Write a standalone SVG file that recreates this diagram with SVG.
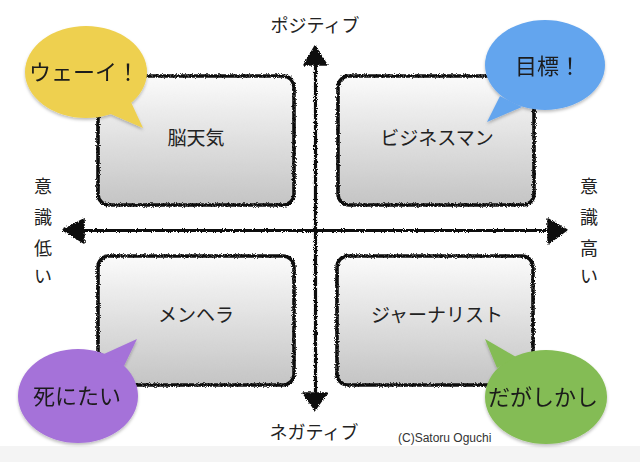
<svg xmlns="http://www.w3.org/2000/svg" width="640" height="462" viewBox="0 0 640 462">
  <defs>
    <linearGradient id="boxGrad" x1="0" y1="0" x2="0" y2="1">
      <stop offset="0" stop-color="#fbfbfb"/>
      <stop offset="1" stop-color="#c4c4c4"/>
    </linearGradient>
    <filter id="rough" x="-5%" y="-5%" width="110%" height="110%">
      <feTurbulence type="fractalNoise" baseFrequency="1.1" numOctaves="2" seed="3" result="n"/>
      <feDisplacementMap in="SourceGraphic" in2="n" scale="3.5" xChannelSelector="R" yChannelSelector="G"/>
    </filter>
    <filter id="shadow" x="-10%" y="-10%" width="120%" height="130%">
      <feDropShadow dx="0" dy="2" stdDeviation="1.5" flood-color="#000" flood-opacity="0.25"/>
    </filter>
  </defs>
  <style>
    .box { fill: url(#boxGrad); stroke: #111; stroke-width: 3.6; filter: url(#rough); }
    .axis { stroke: #111; stroke-width: 3.2; fill: none; }
    .head { fill: #111; stroke: #111; stroke-width: 1.5; stroke-linejoin: round; }
    .lbl { font-family: "Noto Sans CJK JP", "Noto Sans", sans-serif; fill: #222; text-anchor: middle; }
    .box-t { font-size: 19px; }
    .axis-t { font-size: 18px; }
    .bub-t { font-size: 22px; fill: #1a1a1a; }
  </style>
  <rect x="0" y="0" width="640" height="462" fill="#ffffff"/>
  <rect x="0" y="446" width="640" height="16" fill="#f4f4f4"/>

  <g id="connectors">
    <g filter="url(#rough)">
      <line class="axis" x1="315.5" y1="60" x2="315.5" y2="398"/>
      <line class="axis" x1="78" y1="230.5" x2="552" y2="230.5"/>
      <polygon class="head" points="315,46 304,65 327,65"/>
      <polygon class="head" points="315,410 303,393 327,393"/>
      <polygon class="head" points="63,230 84,219 84,243"/>
      <polygon class="head" points="567,230 548,219 548,244"/>
    </g>
  </g>

  <g id="label-positive"><text class="lbl axis-t" x="315" y="32">ポジティブ</text></g>
  <g id="label-negative"><text class="lbl axis-t" x="314" y="439">ネガティブ</text></g>
  <g id="label-low">
    <text class="lbl axis-t" x="43" y="193">意</text>
    <text class="lbl axis-t" x="43" y="224">識</text>
    <text class="lbl axis-t" x="43" y="255">低</text>
    <text class="lbl axis-t" x="43" y="283">い</text>
  </g>
  <g id="label-high">
    <text class="lbl axis-t" x="589" y="193">意</text>
    <text class="lbl axis-t" x="589" y="224">識</text>
    <text class="lbl axis-t" x="589" y="255">高</text>
    <text class="lbl axis-t" x="589" y="283">い</text>
  </g>

  <g id="box-noutenki">
    <rect class="box" x="98" y="76" width="196" height="129" rx="11"/>
    <text class="lbl box-t" x="196" y="145">脳天気</text>
  </g>
  <g id="box-businessman">
    <rect class="box" x="338" y="76" width="196" height="129" rx="11"/>
    <text class="lbl box-t" x="437" y="145">ビジネスマン</text>
  </g>
  <g id="box-menhera">
    <rect class="box" x="98" y="256" width="196" height="129" rx="11"/>
    <text class="lbl box-t" x="196" y="322">メンヘラ</text>
  </g>
  <g id="box-journalist">
    <rect class="box" x="337" y="256" width="196" height="129" rx="11"/>
    <text class="lbl box-t" x="437" y="322">ジャーナリスト</text>
  </g>

  <g id="bubble-wei" filter="url(#shadow)">
    <ellipse cx="86" cy="72" rx="61" ry="46" fill="#eed04f"/>
    <polygon points="106,112 130,100 143,128" fill="#eed04f"/>
    <text class="lbl bub-t" x="84" y="80">ウェーイ！</text>
  </g>
  <g id="bubble-mokuhyo" filter="url(#shadow)">
    <ellipse cx="545" cy="65" rx="60" ry="45" fill="#64a5ee"/>
    <polygon points="500,96 522,107 487,122" fill="#64a5ee"/>
    <text class="lbl bub-t" x="548" y="74">目標！</text>
  </g>
  <g id="bubble-shinitai" filter="url(#shadow)">
    <ellipse cx="78" cy="396" rx="60" ry="47" fill="#a572d9"/>
    <polygon points="104,354 124,366 137,339" fill="#a572d9"/>
    <text class="lbl bub-t" x="77" y="404">死にたい</text>
  </g>
  <g id="bubble-dagashikashi" filter="url(#shadow)">
    <ellipse cx="546" cy="397" rx="61" ry="47" fill="#84bc54"/>
    <polygon points="497,368 516,357 485,339" fill="#84bc54"/>
    <text class="lbl bub-t" x="543" y="405">だがしかし</text>
  </g>

  <g id="copyright">
    <text x="398" y="442" font-family="Liberation Sans, Arial, sans-serif" font-size="12" fill="#333">(C)Satoru Oguchi</text>
  </g>
</svg>
